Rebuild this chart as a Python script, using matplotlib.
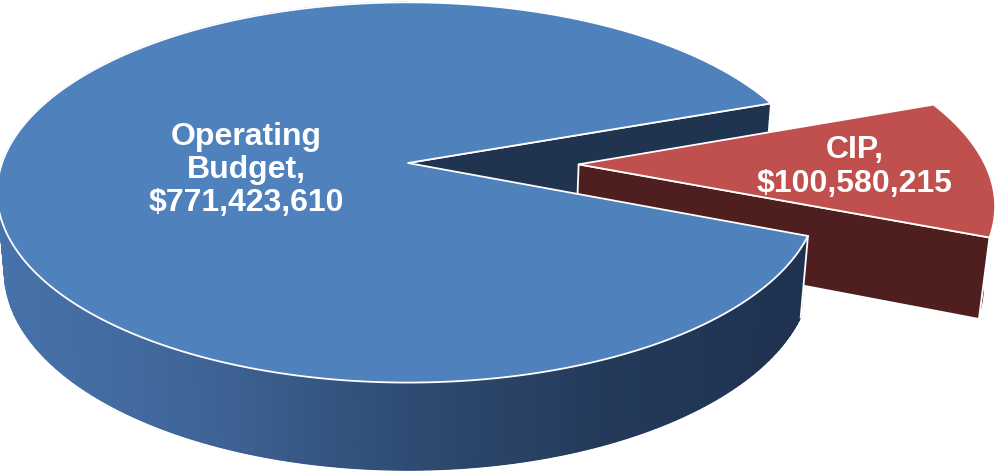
import numpy as np
import matplotlib.pyplot as plt
from matplotlib.patches import Polygon
from matplotlib.colors import LinearSegmentedColormap

# data
labels = ['Operating\nBudget,\n$771,423,610', 'CIP,\n$100,580,215']
values = np.array([771423610, 100580215])

# colours
top_colors = ['#4f81bd', '#c0504d']
cut_colors = ['#21344f', '#4f1f1f']
side_main = LinearSegmentedColormap.from_list(
    'side', ['#4773aa', '#3f6598', '#2f4d74', '#243a5b', '#1f3250'])

# 3d view settings (tuned to the reference)
elev = np.radians(27.2)
dist = 5.74
focal = 2330
thick = 0.22
cx, cy = 408, 163
explode = 0.42
mid_cip = np.radians(-1.0)


def project(x, y, z):
    s, c = np.sin(elev), np.cos(elev)
    zc = c * y - s * z + dist
    yc = s * y + c * z
    return np.column_stack([cx + focal * x / zc, cy - focal * yc / zc])


def arc(t0, t1, z, dx=0.0, dy=0.0, n=200):
    t = np.linspace(t0, t1, n)
    return project(dx + np.cos(t), dy + np.sin(t), np.full_like(t, z))


def radial_face(t, dx=0.0, dy=0.0):
    xs = np.array([dx, dx + np.cos(t), dx + np.cos(t), dx])
    ys = np.array([dy, dy + np.sin(t), dy + np.sin(t), dy])
    zs = np.array([0, 0, -thick, -thick])
    return project(xs, ys, zs)


def wall(t0, t1, dx=0.0, dy=0.0, n=200):
    return np.vstack([arc(t0, t1, 0, dx, dy, n), arc(t1, t0, -thick, dx, dy, n)])


frac = values / values.sum()
half = np.pi * frac[1]
a0 = mid_cip + half                 # main slice starts here
a1 = mid_cip - half + 2 * np.pi     # ... and ends here
ex, ey = explode * np.cos(mid_cip), explode * np.sin(mid_cip)

fig = plt.figure(figsize=(9.99, 4.71), dpi=100)
ax = fig.add_axes([0, 0, 1, 1])
ax.set_xlim(0, 999)
ax.set_ylim(471, 0)
ax.axis('off')

edge = dict(edgecolor='white', linewidth=1.3, joinstyle='round')

# main slice: cut face seen through the gap
ax.add_patch(Polygon(radial_face(a0), facecolor=cut_colors[0], **edge))

# CIP slice (exploded)
ax.add_patch(Polygon(wall(mid_cip - half, mid_cip + half, ex, ey),
                     facecolor=cut_colors[1], edgecolor='white', linewidth=1.0))
ax.add_patch(Polygon(radial_face(mid_cip - half, ex, ey), facecolor=cut_colors[1], **edge))
cip_top = np.vstack([project(np.array([ex]), np.array([ey]), np.array([0.0])),
                     arc(mid_cip - half, mid_cip + half, 0, ex, ey)])
ax.add_patch(Polygon(cip_top, facecolor=top_colors[1], **edge))

# main slice: outer wall with shading
ax.add_patch(Polygon(wall(np.pi / 2, a1), facecolor='#2f4d74', edgecolor='none'))
ts = np.linspace(np.pi / 2, a1, 240)
for t_a, t_b in zip(ts[:-1], ts[1:]):
    quad = wall(t_a, t_b, n=3)
    col = side_main(np.clip(quad[:, 0].mean() / 800, 0, 1))
    ax.add_patch(Polygon(quad, facecolor=col, edgecolor=col, linewidth=0.8))
corner = project(np.array([np.cos(a1)] * 2), np.array([np.sin(a1)] * 2), np.array([0, -thick]))
ax.plot(corner[:, 0], corner[:, 1], color='white', lw=1.3)

main_top = np.vstack([project(np.array([0.0]), np.array([0.0]), np.array([0.0])),
                      arc(a0, a1, 0, n=400)])
ax.add_patch(Polygon(main_top, facecolor=top_colors[0], **edge))

# labels
txt = dict(color='white', fontsize=23, fontweight='bold', ha='center', va='center',
           family='Liberation Sans', linespacing=1.15)
ax.text(246, 170, labels[0], **txt)
ax.text(855, 167, labels[1], **txt)

fig.savefig('out.png', dpi=100)
